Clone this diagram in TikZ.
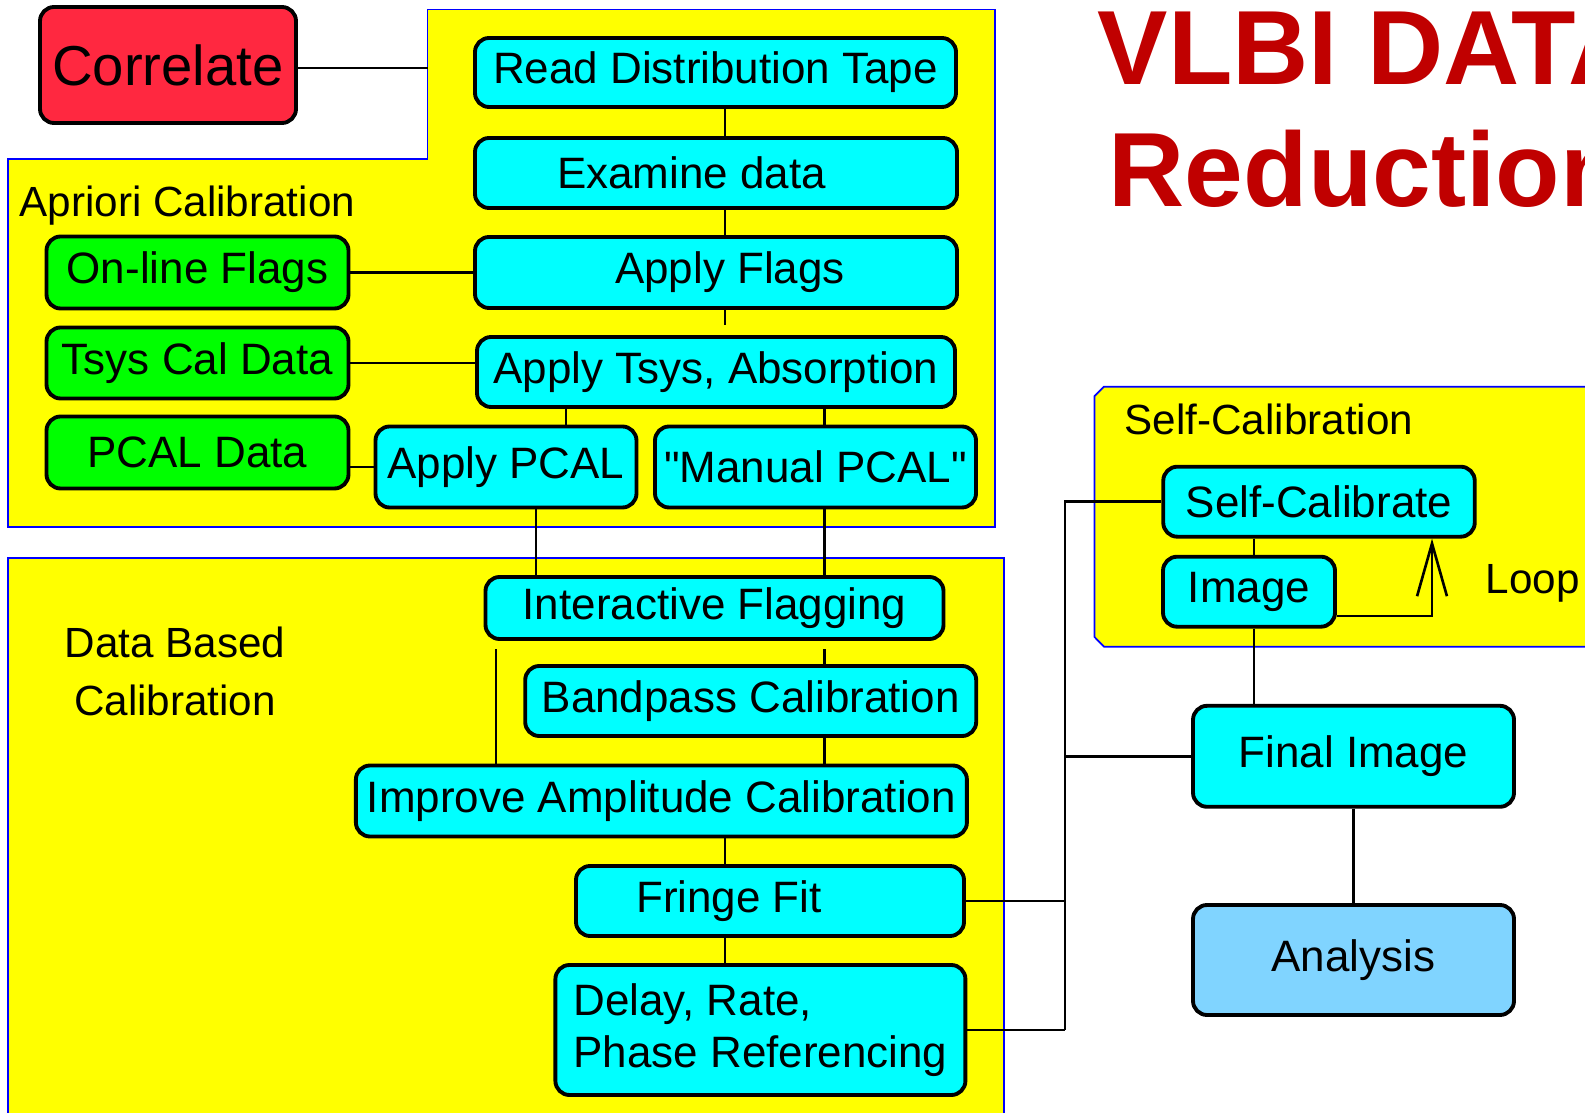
\documentclass[tikz,border=0pt]{standalone}
\usepackage{fontspec}
\setmainfont{Liberation Sans}
\usetikzlibrary{arrows.meta}

\definecolor{boxcyan}{RGB}{0,255,255}
\definecolor{boxgreen}{RGB}{0,255,0}
\definecolor{boxred}{RGB}{255,40,64}
\definecolor{boxsky}{RGB}{128,212,255}
\definecolor{areayellow}{RGB}{255,255,0}
\definecolor{areablue}{RGB}{0,0,255}
\definecolor{titlered}{RGB}{192,0,0}

\newcommand{\boxfont}{\fontsize{12.5}{14.7}\selectfont}
\newcommand{\headfont}{\fontsize{12}{16.5}\selectfont}
\newcommand{\bigfont}{\fontsize{16}{19}\selectfont}
\newcommand{\titlefont}{\fontsize{30}{34}\selectfont\bfseries}

\begin{document}
\begin{tikzpicture}[
  x=0.01cm, y=-0.01cm,
  stage/.style={draw, line width=1.1pt, rounded corners=4pt, fill=boxcyan, inner sep=0pt, align=center, font=\boxfont},
  source/.style={stage, fill=boxgreen},
  dims/.style 2 args={minimum width=#1*0.01cm, minimum height=#2*0.01cm},
  area/.style={fill=areayellow, draw=areablue, line width=0.5pt},
  head/.style={inner sep=0pt, anchor=base west, font=\headfont},
  link/.style={line width=0.75pt}
]
  \fill[white, use as bounding box] (0,0) rectangle (1585,1113);
  \clip (0,0) rectangle (1585,1113);

  % Yellow areas
  \draw[area] (427.5,9.5) -- (995,9.5) -- (995,527) -- (8,527) -- (8,159) -- (427.5,159) -- cycle;
  \draw[area] (1004,1125) -- (1004,557.7) -- (8,557.7) -- (8,1125);
  \draw[area] (1600,386.7) -- (1104,386.7) -- (1094.5,396) -- (1094.5,637) -- (1104,646.7) -- (1600,646.7);

  % Title
  \node[anchor=base west, inner sep=0pt, font=\titlefont, text=titlered] (title) at (1097,85) {VLBI DATA};
  \node[anchor=base west, inner sep=0pt, font=\titlefont, text=titlered] (subtitle) at (1108,206.5) {Reduction};

  % Headings
  \node[head] (apriori) at (19,216.7) {Apriori Calibration};
  \node[head, anchor=center, align=center] (databased) at (175,671) {Data Based\\Calibration};
  \node[head] (selfhead) at (1124,435) {Self-Calibration};
  \node[head] (loop) at (1485,594) {Loop};

  % Nodes
  \node[stage, fill=boxred, font=\bigfont, dims={256}{116}] (correlate) at (168,65) {Correlate};

  \node[stage, dims={481}{69}] (readtape) at (715.5,72.5) {Read Distribution Tape};
  \node[stage, dims={482}{70}] (examine) at (716,173) {Examine data\hspace*{0.49cm}};
  \node[stage, dims={482}{71}] (flags) at (716,272.5) {\hspace*{0.28cm}Apply Flags};
  \node[stage, dims={478}{70}] (tsys) at (716,372) {Apply Tsys, Absorption};
  \node[stage, dims={261}{81}] (pcal) at (506,467) {Apply PCAL};
  \node[stage, dims={321}{81}] (manual) at (815.5,467) {\textquotedbl Manual PCAL\textquotedbl};

  \node[source, dims={302}{72}] (online) at (197.5,272.5) {On-line Flags};
  \node[source, dims={302}{71}] (tsyscal) at (197.5,363) {Tsys Cal Data};
  \node[source, dims={302}{72}] (pcaldata) at (197.5,452.5) {PCAL Data};

  \node[stage, dims={458}{62}] (iflag) at (714.5,608) {Interactive Flagging};
  \node[stage, dims={451}{70}] (bandpass) at (750.7,701) {Bandpass Calibration};
  \node[stage, dims={611}{71}] (improve) at (661.4,801) {Improve Amplitude Calibration};
  \node[stage, dims={388}{70}] (fringe) at (770,901) {Fringe Fit\hspace*{0.82cm}};
  \node[stage, dims={410}{130}, align=left] (delay) at (760.4,1030) {Delay, Rate,\\Phase Referencing};

  \node[stage, dims={311.5}{70}] (selfcal) at (1319,501.7) {Self-Calibrate};
  \node[stage, dims={172}{70}] (image) at (1249,591.7) {Image};
  \node[stage, dims={321}{101}] (final) at (1353.5,756.3) {Final Image};
  \node[stage, fill=boxsky, dims={321}{110}] (analysis) at (1353.5,960) {Analysis};

  % Line positions
  \coordinate (notch) at (427.5,68);
  \coordinate (spine) at (725,0);
  \coordinate (lcol) at (566,0);
  \coordinate (rcol) at (824.5,0);
  \coordinate (pcol) at (536,0);
  \coordinate (ecol) at (496,0);
  \coordinate (bus) at (1065,0);
  \coordinate (scol) at (1254,0);
  \coordinate (loopx) at (1432,616);

  % Arrows
  \draw[link] (correlate.east |- notch) -- (notch);
  \draw[link] (readtape.south -| spine) -- (examine.north -| spine);
  \draw[link] (examine.south -| spine) -- (flags.north -| spine);
  \draw[link, shorten >=3pt] (flags.south -| spine) -- (tsys.north -| spine);
  \draw[link] (tsys.south -| lcol) -- (pcal.north -| lcol);
  \draw[link] (tsys.south -| rcol) -- (manual.north -| rcol);

  \draw[link] (online.east) -- (flags.west);
  \draw[link] (tsyscal.east) -- (tsyscal.east -| tsys.west);
  \draw[link] (pcaldata.east |- pcal.west) -- (pcal.west);

  \draw[link] (pcal.south -| pcol) -- (iflag.north -| pcol);
  \draw[link] (manual.south -| rcol) -- (iflag.north -| rcol);
  \draw[link, shorten <=2.3pt] (iflag.south -| rcol) -- (bandpass.north -| rcol);
  \draw[link, shorten <=2.3pt] (iflag.south -| ecol) -- (improve.north -| ecol);
  \draw[link] (bandpass.south -| rcol) -- (improve.north -| rcol);
  \draw[link] (improve.south -| spine) -- (fringe.north -| spine);
  \draw[link] (fringe.south -| spine) -- (delay.north -| spine);

  \draw[link] (fringe.east) -- (fringe.east -| bus);
  \draw[link] (delay.east) -- (delay.east -| bus);
  \draw[link] (delay.east -| bus) -- (selfcal.west -| bus) -- (selfcal.west);
  \draw[link] (final.west -| bus) -- (final.west);

  \draw[link] (selfcal.south -| scol) -- (image.north -| scol);
  \draw[link] (image.south -| scol) -- (final.north -| scol);
  \draw[link] (final) -- (analysis);
  \draw[link, -{Straight Barb[length=15pt, width=8.5pt]}] (image.east |- loopx) -| (selfcal.south -| loopx);
\end{tikzpicture}
\end{document}
